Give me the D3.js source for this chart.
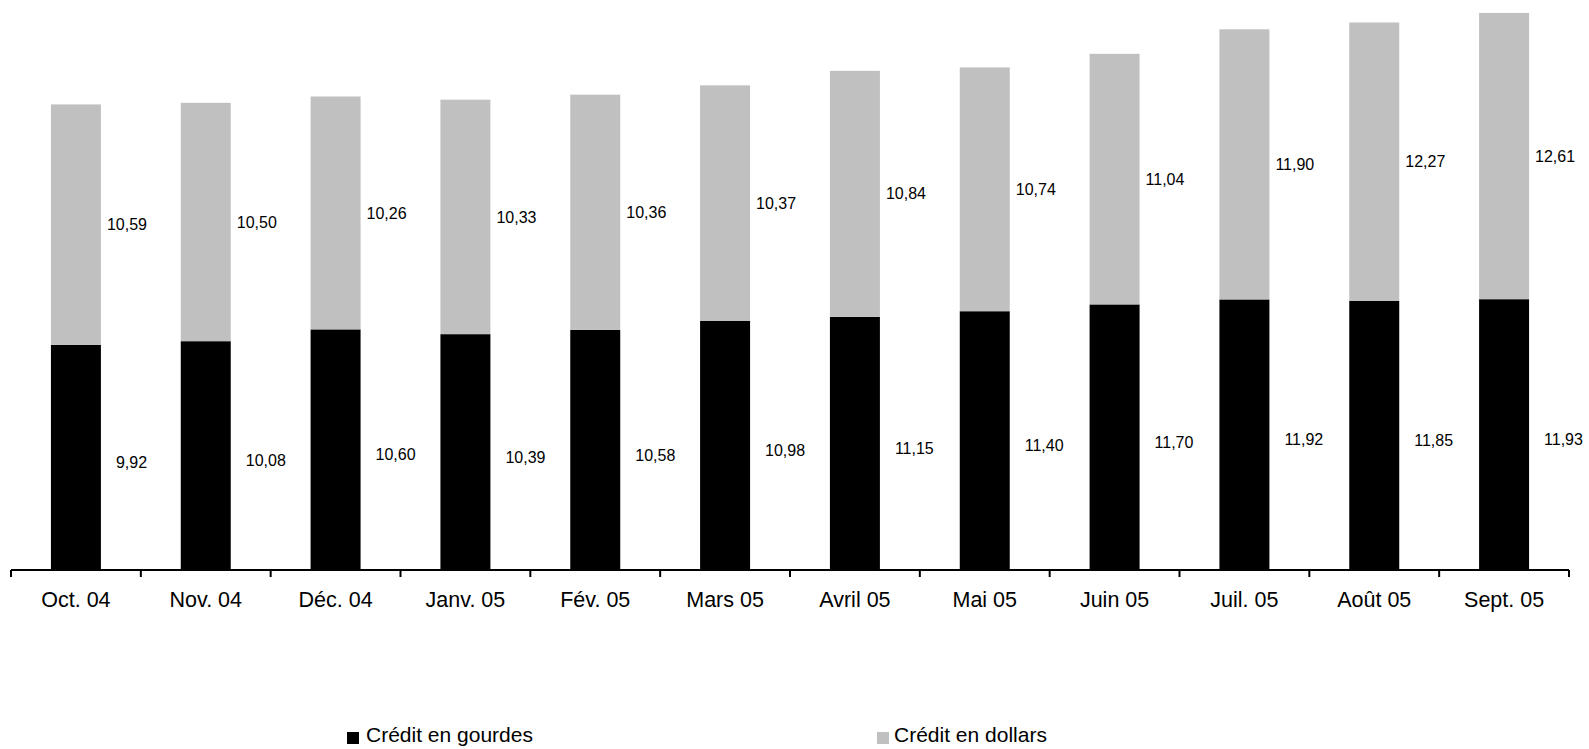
<!DOCTYPE html>
<html>
<head>
<meta charset="utf-8">
<script src="https://cdn.jsdelivr.net/npm/d3@7/dist/d3.min.js"></script>
<style>
  html, body { margin: 0; padding: 0; background: #ffffff; }
  svg { display: block; font-family: "Liberation Sans", Arial, sans-serif; }
</style>
</head>
<body>
<svg id="chart" width="1589" height="749"></svg>
<script>
// ---- data ----
const categories = ["Oct. 04", "Nov. 04", "Déc. 04", "Janv. 05", "Fév. 05", "Mars 05",
                    "Avril 05", "Mai 05", "Juin 05", "Juil. 05", "Août 05", "Sept. 05"];
const creditGourdes = [9.92, 10.08, 10.60, 10.39, 10.58, 10.98, 11.15, 11.40, 11.70, 11.92, 11.85, 11.93];
const creditDollars = [10.59, 10.50, 10.26, 10.33, 10.36, 10.37, 10.84, 10.74, 11.04, 11.90, 12.27, 12.61];
const seriesNames = ["Crédit en gourdes", "Crédit en dollars"];
const yDomain = [0, 25];

// ---- layout ----
const svg = d3.select("#chart");
const left = 11, right = 1569, baseY = 570, topY = 2.5;
const colors = ["#000000", "#c0c0c0"];
const fmt = v => d3.format(".2f")(v).replace(".", ",");

const x = d3.scaleBand().domain(categories).range([left, right]).padding(0);
const y = d3.scaleLinear().domain(yDomain).range([baseY, topY]);
const barW = x.bandwidth() * 0.385;

const rows = categories.map((c, i) => ({ cat: c, g: creditGourdes[i], d: creditDollars[i] }));
const stack = d3.stack().keys(["g", "d"])(rows);

// bars
svg.append("g").selectAll("g").data(stack).join("g")
  .attr("fill", (s, i) => colors[i])
  .selectAll("rect").data(s => s).join("rect")
  .attr("x", d => x(d.data.cat) + (x.bandwidth() - barW) / 2)
  .attr("width", barW)
  .attr("y", d => y(d[1]))
  .attr("height", d => y(d[0]) - y(d[1]));

// data labels
const labG = svg.append("g").attr("font-size", 16).attr("fill", "#000");
labG.selectAll("text.g").data(rows).join("text").attr("class", "g")
  .attr("x", d => x(d.cat) + (x.bandwidth() + barW) / 2 + 15)
  .attr("y", d => (y(0) + y(d.g)) / 2 + 5)
  .attr("dy", "0.35em")
  .text(d => fmt(d.g));
labG.selectAll("text.d").data(rows).join("text").attr("class", "d")
  .attr("x", d => x(d.cat) + (x.bandwidth() + barW) / 2 + 6)
  .attr("y", d => (y(d.g) + y(d.g + d.d)) / 2)
  .attr("dy", "0.35em")
  .text(d => fmt(d.d));

// x axis
const axisG = svg.append("g").attr("transform", `translate(0,${baseY})`);
const axis = d3.axisBottom(x).tickSize(0).tickPadding(22);
axisG.call(axis);
axisG.select(".domain").remove();
axisG.selectAll(".tick text")
  .attr("font-size", 21.5)
  .attr("font-family", "Liberation Sans, Arial, sans-serif")
  .attr("fill", "#000");
axisG.append("line")
  .attr("x1", left).attr("x2", right)
  .attr("y1", 0).attr("y2", 0)
  .attr("stroke", "#000").attr("stroke-width", 2);
const bounds = categories.map(c => x(c)).concat([x(categories[categories.length - 1]) + x.step()]);
axisG.selectAll("line.tk").data(bounds).join("line").attr("class", "tk")
  .attr("x1", d => d).attr("x2", d => d)
  .attr("y1", 0).attr("y2", 7)
  .attr("stroke", "#000").attr("stroke-width", 2);

// legend
const legendX = [347, 877];
const leg = svg.append("g").selectAll("g").data(seriesNames).join("g")
  .attr("transform", (d, i) => `translate(${legendX[i]},0)`);
leg.append("rect").attr("x", 0).attr("y", 732).attr("width", 12).attr("height", 12)
  .attr("fill", (d, i) => colors[i]);
leg.append("text").attr("x", (d, i) => i === 0 ? 19 : 17).attr("y", 742)
  .attr("font-size", 21).attr("fill", "#000")
  .text(d => d);
</script>
</body>
</html>
